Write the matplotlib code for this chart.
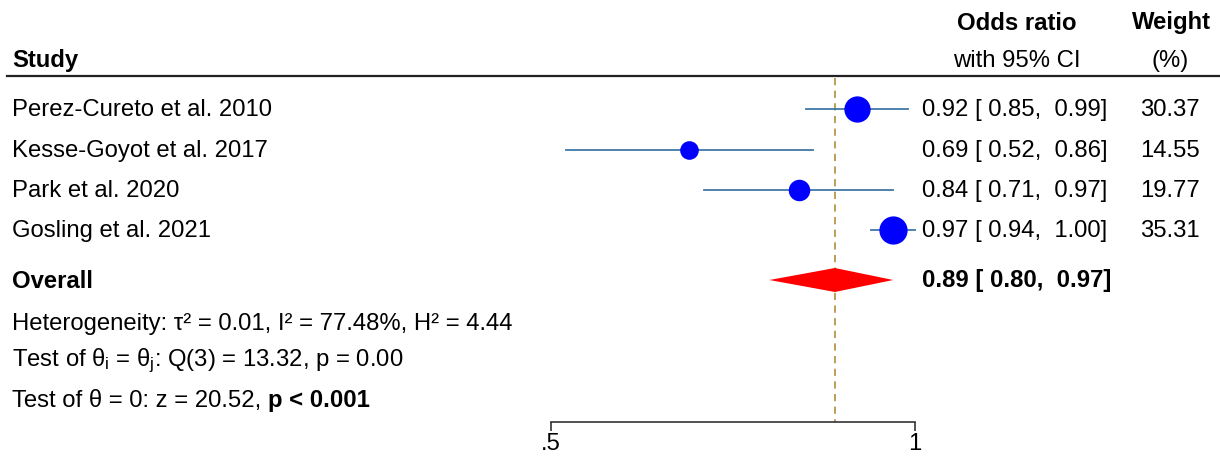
import numpy as np
import matplotlib.pyplot as plt
from matplotlib import transforms

plt.rcParams['font.family'] = ['Liberation Sans', 'DejaVu Sans']
plt.rcParams['mathtext.fontset'] = 'custom'
plt.rcParams['mathtext.rm'] = 'Liberation Sans'
plt.rcParams['mathtext.it'] = 'Liberation Sans'
plt.rcParams['mathtext.bf'] = 'Liberation Sans:bold'

# study data
studies = ['Perez-Cureto et al. 2010', 'Kesse-Goyot et al. 2017',
           'Park et al. 2020', 'Gosling et al. 2021']
odds = [0.92, 0.69, 0.84, 0.97]
lower = [0.85, 0.52, 0.71, 0.94]
upper = [0.99, 0.86, 0.97, 1.00]
weight = [30.37, 14.55, 19.77, 35.31]

# overall estimate
overall = 0.89
overall_lo = 0.80
overall_hi = 0.97

het_text = 'Heterogeneity: τ² = 0.01, I² = 77.48%, H² = 4.44'
test1_text = r'Test of $\theta_i$ = $\theta_j$: Q(3) = 13.32, p = 0.00'
test2_text = 'Test of θ = 0: z = 20.52, '
test2_bold = 'p < 0.001'

W, H = 1220, 459
fig = plt.figure(figsize=(W/100, H/100), dpi=100)
ax = fig.add_axes([0, 0, 1, 1])

# x: .5 at 551 px, 1 at 915 px
ppu = (915 - 551) / 0.5
x0 = 0.5 - 551/ppu
ax.set_xlim(x0, x0 + W/ppu)
ax.set_ylim(H, 0)

fs = 17.2
row_y = [110, 151, 191, 231]
y_over = 281
tr = transforms.blended_transform_factory(fig.transFigure, ax.transData)

def fx(p):
    return p / W

# header
ax.text(fx(12), 61, 'Study', transform=tr, fontsize=fs, fontweight='bold', va='center')
ax.text(fx(1017), 23, 'Odds ratio', transform=tr, fontsize=fs, fontweight='bold', va='center', ha='center')
ax.text(fx(1017), 61, 'with 95% CI', transform=tr, fontsize=fs, va='center', ha='center')
ax.text(fx(1171), 23, 'Weight', transform=tr, fontsize=fs, fontweight='bold', va='center', ha='center')
ax.text(fx(1170), 61, '(%)', transform=tr, fontsize=fs, va='center', ha='center')
ax.plot([fx(7), fx(1220)], [76, 76], transform=tr, color='#222222', lw=1.6, clip_on=False)

# reference line at overall estimate
ax.plot([overall, overall], [78, 422], ls=(0, (4, 3)), color='#B8954A', lw=1.3, zorder=1)

for i, s in enumerate(studies):
    y = row_y[i]
    ax.plot([lower[i], upper[i]], [y - 1, y - 1], color='#3F77A6', lw=1.3, zorder=2)
    ax.plot(odds[i], y - 1, 'o', color='#0000FF', mec='#0000FF',
            ms=3.25*np.sqrt(weight[i]), zorder=3)
    ax.text(fx(12), y, s, transform=tr, fontsize=fs, va='center')
    ax.text(fx(922), y, '%.2f [ %.2f,  %.2f]' % (odds[i], lower[i], upper[i]),
            transform=tr, fontsize=fs, va='center')
    ax.text(fx(1170), y, '%.2f' % weight[i], transform=tr, fontsize=fs,
            va='center', ha='center')

# overall diamond
ax.fill([overall_lo, overall, overall_hi, overall],
        [y_over - 1, y_over - 13, y_over - 1, y_over + 11], color='#FF0000', lw=0, zorder=3)
ax.text(fx(12), y_over, 'Overall', transform=tr, fontsize=fs, fontweight='bold', va='center')
ax.text(fx(922), y_over, '%.2f [ %.2f,  %.2f]' % (overall, overall_lo, overall_hi),
        transform=tr, fontsize=fs, fontweight='bold', va='center')

ax.text(fx(12), 324, het_text, transform=tr, fontsize=fs, va='center')
ax.text(fx(12), 361, test1_text, transform=tr, fontsize=fs, va='center')
t2 = ax.text(fx(12), 401, test2_text, transform=tr, fontsize=fs, va='center')
fig.canvas.draw()
bb = t2.get_window_extent(fig.canvas.get_renderer())
ax.text(bb.x1 / W, 401, test2_bold, transform=tr, fontsize=fs,
        fontweight='bold', va='center')

# x axis
for side in ['left', 'right', 'top']:
    ax.spines[side].set_visible(False)
ax.spines['bottom'].set_position(('data', 422))
ax.spines['bottom'].set_bounds(0.5, 1)
ax.spines['bottom'].set_color('#333333')
ax.spines['bottom'].set_linewidth(1.2)
ax.set_xticks([0.5, 1])
ax.set_xticklabels(['.5', '1'], fontsize=fs)
ax.tick_params(axis='x', direction='out', length=6.5, width=1.2, color='#333333', pad=1.5)
ax.set_yticks([])

plt.savefig('out.png', dpi=100)
